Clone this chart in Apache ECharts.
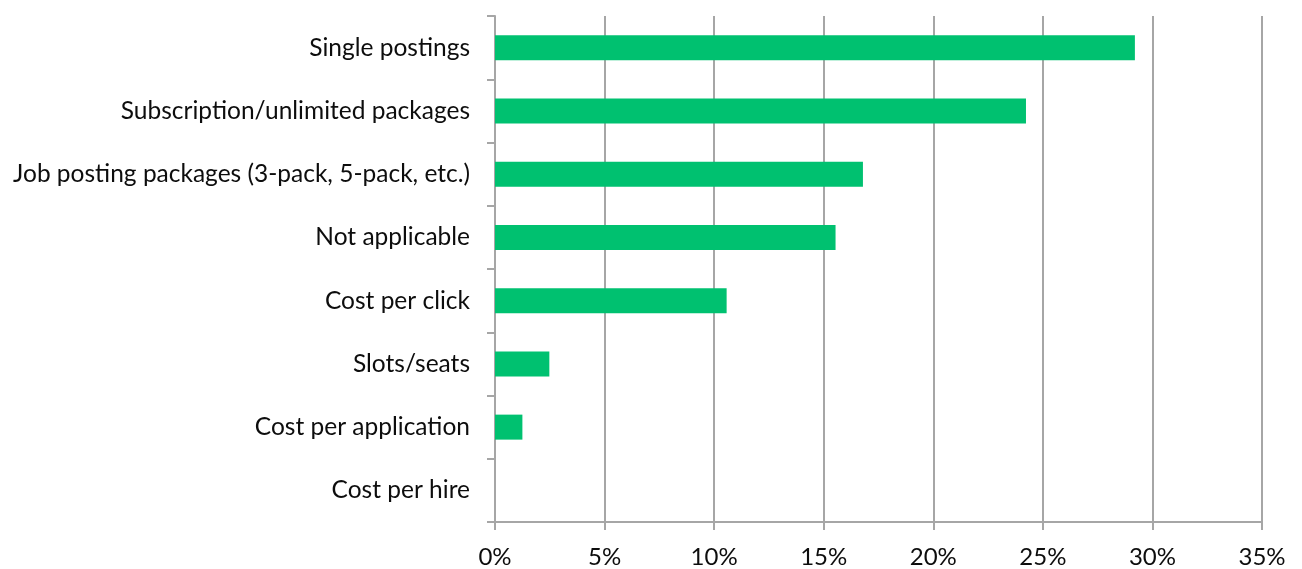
<!DOCTYPE html>
<html>
<head>
<meta charset="utf-8">
<script src="https://cdn.jsdelivr.net/npm/echarts@6/dist/echarts.min.js"></script>
<style>
  html, body { margin: 0; padding: 0; background: #fff; }
  #chart { width: 1302px; height: 569px; }
</style>
</head>
<body>
<div id="chart"></div>
<script>
// Pricing models, top to bottom
const categories = [
  'Single postings',
  'Subscription/unlimited packages',
  'Job posting packages (3-pack, 5-pack, etc.)',
  'Not applicable',
  'Cost per click',
  'Slots/seats',
  'Cost per application',
  'Cost per hire'
];
// Share of respondents, in percent
const shares = [29.2, 24.23, 16.79, 15.54, 10.57, 2.48, 1.25, 0];
const xTicks = [0, 5, 10, 15, 20, 25, 30, 35];

const chart = echarts.init(document.getElementById('chart'));
const fontFamily = 'Lato, "Open Sans", sans-serif';
chart.setOption({
  animation: false,
  grid: { left: 495, right: 40, top: 16, bottom: 47, containLabel: false },
  xAxis: {
    type: 'value',
    min: xTicks[0],
    max: xTicks[xTicks.length - 1],
    interval: 5,
    axisLine: { show: true, lineStyle: { color: '#a6a6a6', width: 2 } },
    axisTick: { show: true, length: 8, lineStyle: { color: '#a6a6a6', width: 2 } },
    splitLine: { show: true, lineStyle: { color: '#a6a6a6', width: 2 } },
    axisLabel: {
      formatter: v => v + '%',
      color: '#0d0d0d',
      fontFamily: fontFamily,
      fontSize: 24,
      margin: 23
    }
  },
  yAxis: {
    type: 'category',
    inverse: true,
    data: categories,
    axisLine: { show: true, lineStyle: { color: '#a6a6a6', width: 2 } },
    axisTick: { show: true, length: 8, alignWithLabel: false, lineStyle: { color: '#a6a6a6', width: 2 } },
    axisLabel: {
      color: '#0d0d0d',
      fontFamily: fontFamily,
      fontSize: 24.5,
      margin: 25
    }
  },
  series: [{
    type: 'bar',
    data: shares,
    barWidth: 25,
    itemStyle: { color: '#00c170' }
  }]
});
</script>
</body>
</html>
